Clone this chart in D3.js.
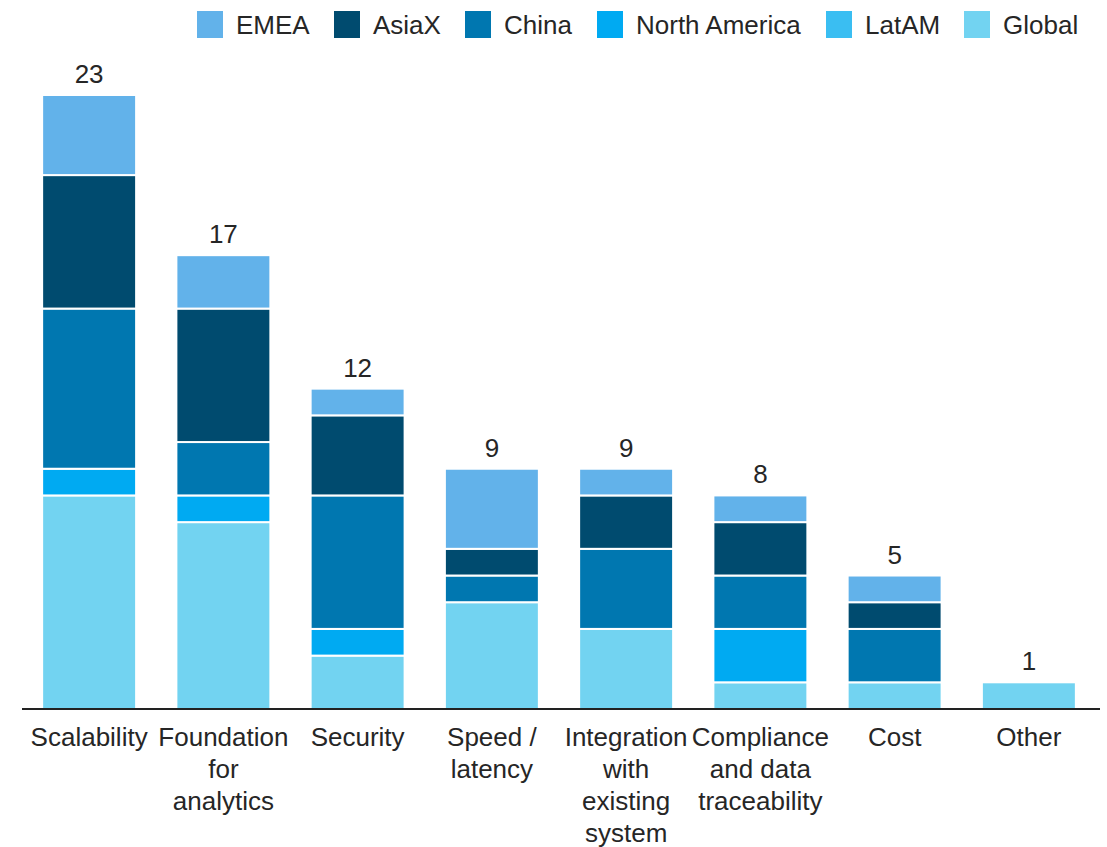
<!DOCTYPE html>
<html>
<head>
<meta charset="utf-8">
<script src="https://cdn.jsdelivr.net/npm/d3@7"></script>
<style>
  body { margin: 0; background: #fff; }
  svg { display: block; font-family: "Liberation Sans", Arial, sans-serif; }
</style>
</head>
<body>
<svg id="chart" width="1107" height="847"></svg>
<script>
// Categories (x axis), with manual line breaks
const categories = ["Scalability", "Foundation for analytics", "Security", "Speed / latency",
  "Integration with existing system", "Compliance and data traceability", "Cost", "Other"];
const categoryLines = [
  ["Scalability"],
  ["Foundation", "for", "analytics"],
  ["Security"],
  ["Speed /", "latency"],
  ["Integration", "with", "existing", "system"],
  ["Compliance", "and data", "traceability"],
  ["Cost"],
  ["Other"]
];

// Series, bottom to top of each stack
const seriesNames = ["Global", "LatAM", "North America", "China", "AsiaX", "EMEA"];
const globalVals  = [8, 7, 2, 4, 3, 1, 1, 1];
const latamVals   = [0, 0, 0, 0, 0, 0, 0, 0];
const naVals      = [1, 1, 1, 0, 0, 2, 0, 0];
const chinaVals   = [6, 2, 5, 1, 3, 2, 2, 0];
const asiaxVals   = [5, 5, 3, 1, 2, 2, 1, 0];
const emeaVals    = [3, 2, 1, 3, 1, 1, 1, 0];

// Legend order (left to right)
const legendOrder = ["EMEA", "AsiaX", "China", "North America", "LatAM", "Global"];

const colors = {
  "EMEA": "#62b2ea",
  "AsiaX": "#004b6f",
  "China": "#0077b0",
  "North America": "#00aaf2",
  "LatAM": "#3abef2",
  "Global": "#72d3f1"
};

const valuesBySeries = {
  "Global": globalVals,
  "LatAM": latamVals,
  "North America": naVals,
  "China": chinaVals,
  "AsiaX": asiaxVals,
  "EMEA": emeaVals
};

const table = categories.map((c, i) => {
  const row = { category: c };
  seriesNames.forEach(s => row[s] = valuesBySeries[s][i]);
  return row;
});

const FONT = 26;
const TEXT = "#262626";

const svg = d3.select("#chart");

const x = d3.scaleBand()
  .domain(categories)
  .range([22, 1096])
  .paddingInner(0.3)
  .paddingOuter(0.15);

const y = d3.scaleLinear()
  .domain([0, 23])
  .range([709, 95]);

const stack = d3.stack().keys(seriesNames);
const stacked = stack(table);

// Stacked segments
svg.append("g")
  .selectAll("g")
  .data(stacked)
  .join("g")
  .attr("fill", d => colors[d.key])
  .selectAll("rect")
  .data(d => d.filter(p => p[1] - p[0] > 0))
  .join("rect")
  .attr("x", d => x(d.data.category))
  .attr("width", x.bandwidth())
  .attr("y", d => y(d[1]))
  .attr("height", d => y(d[0]) - y(d[1]))
  .attr("stroke", "#fff")
  .attr("stroke-width", 2);

// Totals above bars
svg.append("g")
  .selectAll("text")
  .data(table)
  .join("text")
  .attr("x", d => x(d.category) + x.bandwidth() / 2)
  .attr("y", d => y(d3.sum(seriesNames, s => d[s])) - 12)
  .attr("text-anchor", "middle")
  .attr("font-size", FONT)
  .attr("fill", TEXT)
  .text(d => d3.sum(seriesNames, s => d[s]));

// Baseline axis
const xAxis = svg.append("g")
  .attr("transform", `translate(0,${y(0)})`)
  .call(d3.axisBottom(x).tickSize(0).tickFormat(""));
xAxis.select(".domain")
  .attr("d", "M22,0H1100")
  .attr("stroke", "#222")
  .attr("stroke-width", 2);

// Multi-line category labels
xAxis.selectAll(".tick").each(function(d, i) {
  const t = d3.select(this).append("text")
    .attr("fill", TEXT)
    .attr("font-size", FONT)
    .attr("text-anchor", "middle")
    .attr("font-family", "\"Liberation Sans\", Arial, sans-serif");
  categoryLines[i].forEach((line, j) => {
    t.append("tspan").attr("x", 0).attr("y", 37 + j * 32).text(line);
  });
});

// Legend
const legendX = [197, 334, 465, 597, 826, 964];
const legend = svg.append("g");
legendOrder.forEach((name, i) => {
  const g = legend.append("g").attr("transform", `translate(${legendX[i]},11)`);
  g.append("rect").attr("width", 26).attr("height", 27).attr("fill", colors[name]);
  g.append("text")
    .attr("x", 39)
    .attr("y", 23)
    .attr("font-size", FONT)
    .attr("fill", TEXT)
    .text(name);
});
</script>
</body>
</html>
